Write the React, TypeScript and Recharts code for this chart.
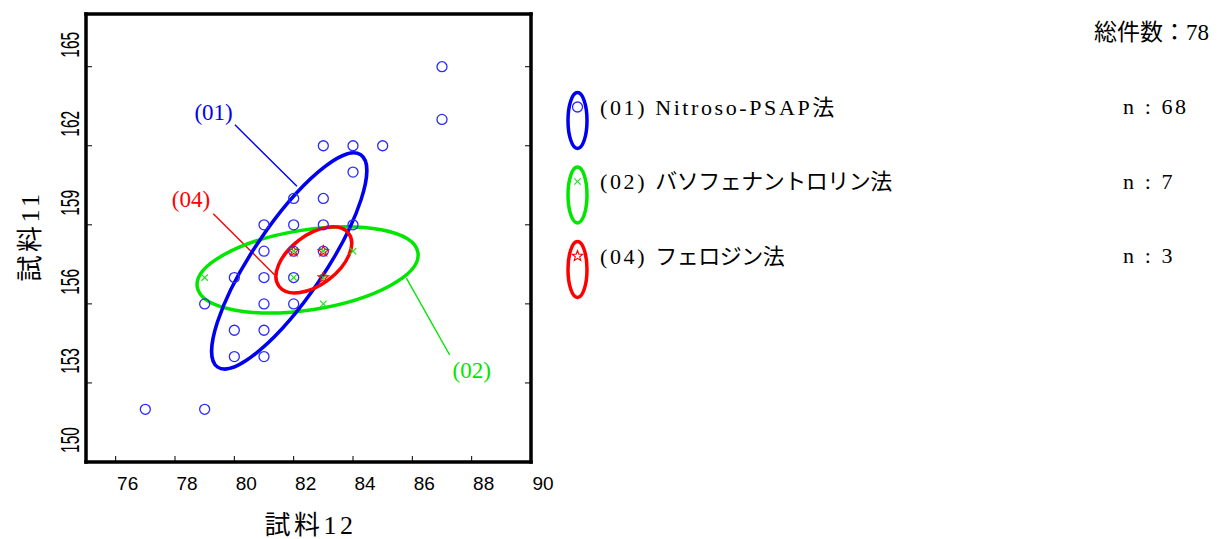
import React from "react";
import { ScatterChart, Scatter, XAxis, YAxis, ReferenceLine, ReferenceDot } from "recharts";

const CHART_W = 1221;
const CHART_H = 539;

const SERIF = "'Liberation Serif', 'Noto Sans CJK JP', serif";
const SANS = "'Liberation Sans', Arial, sans-serif";

const xTicks = [76, 78, 80, 82, 84, 86, 88, 90];
const yTicks = [150, 153, 156, 159, 162, 165];

const xTitle = "試料12";
const yTitle = "試料11";
const totalLabel = "総件数：78";

// (01) Nitroso-PSAP法
const nitrosoPoints = [
  { x: 87, y: 165 }, { x: 87, y: 163 },
  { x: 83, y: 162 }, { x: 84, y: 162 }, { x: 85, y: 162 },
  { x: 84, y: 161 },
  { x: 82, y: 160 }, { x: 83, y: 160 },
  { x: 81, y: 159 }, { x: 82, y: 159 }, { x: 83, y: 159 }, { x: 84, y: 159 },
  { x: 81, y: 158 }, { x: 82, y: 158 }, { x: 83, y: 158 },
  { x: 80, y: 157 }, { x: 81, y: 157 }, { x: 82, y: 157 },
  { x: 79, y: 156 }, { x: 81, y: 156 }, { x: 82, y: 156 },
  { x: 80, y: 155 }, { x: 81, y: 155 },
  { x: 80, y: 154 }, { x: 81, y: 154 },
  { x: 77, y: 152 }, { x: 79, y: 152 },
];

// (02) バソフェナントロリン法
const bathoPoints = [
  { x: 82, y: 158 }, { x: 83, y: 158 }, { x: 84, y: 158 },
  { x: 79, y: 157 }, { x: 82, y: 157 }, { x: 83, y: 157 },
  { x: 83, y: 156 },
];

// (04) フェロジン法
const ferrozinePoints = [
  { x: 82, y: 158 }, { x: 83, y: 158 }, { x: 83, y: 157 },
];

// ellipse = centre, end of one semi-axis, end of the conjugate semi-axis
const nitrosoEllipse = [
  { x: 81.85, y: 157.63 }, { x: 84.26, y: 161.66 }, { x: 82.86, y: 156.87 },
];
const bathoEllipse = [
  { x: 82.47, y: 157.29 }, { x: 86.19, y: 157.94 }, { x: 82.68, y: 155.79 },
];
const ferrozineEllipse = [
  { x: 82.68, y: 157.67 }, { x: 83.85, y: 158.68 }, { x: 83.19, y: 156.93 },
];

// leader lines from the group labels to the ellipses
const nitrosoLeader = [{ x: 80.02, y: 162.8 }, { x: 82.11, y: 160.46 }];
const bathoLeader = [{ x: 85.8, y: 156.98 }, { x: 87.26, y: 154.06 }];
const ferrozineLeader = [{ x: 79.29, y: 159.42 }, { x: 81.36, y: 157.1 }];

const nitrosoTag = { x: 79.3, y: 163.25, text: "(01)" };
const bathoTag = { x: 88.0, y: 153.49, text: "(02)" };
const ferrozineTag = { x: 78.54, y: 159.95, text: "(04)" };

const methodIds = ["(01)", "(02)", "(04)"];
const methodNames = ["Nitroso-PSAP法", "バソフェナントロリン法", "フェロジン法"];
const methodCounts = [68, 7, 3];

const BLUE = "#0000f0";
const GREEN = "#00e600";
const RED = "#ff0000";
const methodColors = [BLUE, GREEN, RED];

const ellipsePath = (pts: { x: number; y: number }[]) => {
  const [c, p, q] = pts;
  const ux = p.x - c.x;
  const uy = p.y - c.y;
  const vx = q.x - c.x;
  const vy = q.y - c.y;
  const k = 0.5523;
  const P = (a: number, b: number) =>
    `${(c.x + a * ux + b * vx).toFixed(2)},${(c.y + a * uy + b * vy).toFixed(2)}`;
  return (
    `M${P(1, 0)} C${P(1, k)} ${P(k, 1)} ${P(0, 1)} ` +
    `C${P(-k, 1)} ${P(-1, k)} ${P(-1, 0)} ` +
    `C${P(-1, -k)} ${P(-k, -1)} ${P(0, -1)} ` +
    `C${P(k, -1)} ${P(1, -k)} ${P(1, 0)} Z`
  );
};

const ellipseLine = (color: string) => (props: any) =>
  <path d={ellipsePath(props.points)} fill="none" stroke={color} strokeWidth={3.5} />;

const NoShape = () => <g />;

const starPath = (cx: number, cy: number, R: number, r: number) => {
  let d = "";
  for (let i = 0; i < 10; i++) {
    const rad = i % 2 === 0 ? R : r;
    const a = -Math.PI / 2 + (i * Math.PI) / 5;
    d += `${i === 0 ? "M" : "L"}${(cx + rad * Math.cos(a)).toFixed(2)},${(cy + rad * Math.sin(a)).toFixed(2)}`;
  }
  return d + "Z";
};

const CircleMark = ({ cx, cy }: any) => (
  <circle cx={cx} cy={cy} r={5} fill="none" stroke="#2a2aff" strokeWidth={1.3} />
);
const CrossMark = ({ cx, cy }: any) => (
  <g stroke="#22dd22" strokeWidth={1.2}>
    <line x1={cx - 3.2} y1={cy - 3.2} x2={cx + 3.2} y2={cy + 3.2} />
    <line x1={cx - 3.2} y1={cy + 3.2} x2={cx + 3.2} y2={cy - 3.2} />
  </g>
);
const StarMark = ({ cx, cy }: any) => (
  <path d={starPath(cx, cy, 5.5, 2.3)} fill="none" stroke={RED} strokeWidth={1.1} />
);

const BottomTick = ({ x, y, payload }: any) => (
  <g>
    <line x1={x} y1={y} x2={x} y2={y - 6} stroke="#000" strokeWidth={1} />
    <text x={x + 12} y={y + 21} textAnchor="middle" dominantBaseline="central" fontSize={19} fontFamily={SANS} fill="#000">
      {payload.value}
    </text>
  </g>
);
const TopTick = ({ x, y }: any) => <line x1={x} y1={y} x2={x} y2={y + 6} stroke="#000" strokeWidth={1} />;
const LeftTick = ({ x, y, payload }: any) => (
  <g>
    <line x1={x} y1={y} x2={x + 6} y2={y} stroke="#000" strokeWidth={1} />
    <g transform={`translate(${x - 16},${y - 22}) rotate(-90) scale(0.62,1)`}>
      <text x={0} y={0} textAnchor="middle" dominantBaseline="central" fontSize={25} fontFamily={SANS} fill="#000">
        {payload.value}
      </text>
    </g>
  </g>
);
const RightTick = ({ x, y }: any) => <line x1={x} y1={y} x2={x - 6} y2={y} stroke="#000" strokeWidth={1} />;

const tagShape = (text: string, color: string) => (props: any) =>
  (
    <text x={props.cx} y={props.cy} textAnchor="middle" dominantBaseline="central" fontSize={23} fontFamily={SERIF} fill={color}>
      {text}
    </text>
  );

const frameLine = { stroke: "#000", strokeWidth: 3.5, strokeLinecap: "square" as const };

const TITLE_STYLE = { letterSpacing: 3.5 };

const XTitle = ({ viewBox }: any) => {
  const cx = viewBox.x + viewBox.width / 2 + 2;
  const cy = viewBox.y + 63;
  return (
    <text x={cx} y={cy} textAnchor="middle" dominantBaseline="central" fontSize={26} fontFamily={SERIF} fill="#000" style={TITLE_STYLE}>
      {xTitle}
    </text>
  );
};

const YTitle = ({ viewBox }: any) => {
  const cx = viewBox.x + viewBox.width - 56;
  const cy = viewBox.y + viewBox.height / 2 - 2;
  return (
    <text x={cx} y={cy} transform={`rotate(-90 ${cx} ${cy})`} textAnchor="middle" dominantBaseline="central" fontSize={26} fontFamily={SERIF} fill="#000" style={TITLE_STYLE}>
      {yTitle}
    </text>
  );
};

const LATIN = { letterSpacing: 2.6 };
const KANA = { letterSpacing: -0.5 };

const LegendOverlay = () => (
  <svg width={CHART_W} height={CHART_H} style={{ position: "absolute", left: 0, top: 0, pointerEvents: "none" }}>
    <text x={1209} y={32} textAnchor="end" dominantBaseline="central" fontSize={23} fontFamily={SERIF} fill="#000">
      {totalLabel}
    </text>
    {methodIds.map((id, i) => {
      const top = 91 + i * 74.5;
      const color = methodColors[i];
      const name = methodNames[i];
      const latinPart = name.replace(/法$/, "");
      const isLatin = /^[A-Za-z]/.test(name);
      return (
        <g key={id}>
          <ellipse cx={577.5} cy={top + 29.5} rx={9.5} ry={28} fill="none" stroke={color} strokeWidth={3.5} />
          {i === 0 && <CircleMark cx={577.5} cy={top + 16} />}
          {i === 1 && <CrossMark cx={577.5} cy={top + 16} />}
          {i === 2 && <StarMark cx={577.5} cy={top + 16} />}
          <text x={600} y={top + 15.5} dominantBaseline="central" fontSize={22} fontFamily={SERIF} fill="#000">
            <tspan style={LATIN}>{`${id} `}</tspan>
            {isLatin ? (
              <>
                <tspan style={LATIN}>{latinPart}</tspan>
                <tspan>法</tspan>
              </>
            ) : (
              <tspan style={KANA}>{name}</tspan>
            )}
          </text>
          <text x={1123} y={top + 15.5} dominantBaseline="central" fontSize={22} fontFamily={SERIF} fill="#000" style={LATIN}>
            {`n : ${methodCounts[i]}`}
          </text>
        </g>
      );
    })}
  </svg>
);

export default function App() {
  return (
    <div style={{ position: "absolute", left: 0, top: 0, width: CHART_W, height: CHART_H, background: "#fff" }}>
      <ScatterChart width={CHART_W} height={CHART_H} margin={{ top: 13, left: 85, right: 689, bottom: 76 }}>
        <XAxis
          type="number"
          dataKey="x"
          domain={[75, 90]}
          ticks={xTicks}
          interval={0}
          height={1}
          tickSize={0}
          tickMargin={0}
          tickLine={false}
          tick={<BottomTick />}
          axisLine={frameLine}
          allowDataOverflow
          label={{ content: <XTitle /> }}
        />
        <XAxis
          xAxisId="top"
          orientation="top"
          type="number"
          domain={[75, 90]}
          ticks={xTicks}
          interval={0}
          height={1}
          tickSize={0}
          tickMargin={0}
          tickLine={false}
          tick={<TopTick />}
          axisLine={frameLine}
          allowDataOverflow
        />
        <YAxis
          type="number"
          dataKey="y"
          domain={[150, 167]}
          ticks={yTicks}
          interval={0}
          width={1}
          tickSize={0}
          tickMargin={0}
          tickLine={false}
          tick={<LeftTick />}
          axisLine={frameLine}
          allowDataOverflow
          label={{ content: <YTitle /> }}
        />
        <YAxis
          yAxisId="right"
          orientation="right"
          type="number"
          domain={[150, 167]}
          ticks={yTicks}
          interval={0}
          width={1}
          tickSize={0}
          tickMargin={0}
          tickLine={false}
          tick={<RightTick />}
          axisLine={frameLine}
          allowDataOverflow
        />

        <Scatter data={bathoEllipse} shape={NoShape} line={ellipseLine(GREEN)} isAnimationActive={false} legendType="none" />
        <Scatter data={nitrosoEllipse} shape={NoShape} line={ellipseLine(BLUE)} isAnimationActive={false} legendType="none" />
        <Scatter data={ferrozineEllipse} shape={NoShape} line={ellipseLine(RED)} isAnimationActive={false} legendType="none" />

        <ReferenceLine segment={nitrosoLeader} stroke={BLUE} strokeWidth={1.4} />
        <ReferenceLine segment={bathoLeader} stroke={GREEN} strokeWidth={1.4} />
        <ReferenceLine segment={ferrozineLeader} stroke={RED} strokeWidth={1.4} />
        <ReferenceDot x={nitrosoTag.x} y={nitrosoTag.y} r={0} shape={tagShape(nitrosoTag.text, BLUE)} />
        <ReferenceDot x={bathoTag.x} y={bathoTag.y} r={0} shape={tagShape(bathoTag.text, GREEN)} />
        <ReferenceDot x={ferrozineTag.x} y={ferrozineTag.y} r={0} shape={tagShape(ferrozineTag.text, RED)} />

        <Scatter name="(01) Nitroso-PSAP法" data={nitrosoPoints} shape={CircleMark} isAnimationActive={false} />
        <Scatter name="(02) バソフェナントロリン法" data={bathoPoints} shape={CrossMark} isAnimationActive={false} />
        <Scatter name="(04) フェロジン法" data={ferrozinePoints} shape={StarMark} isAnimationActive={false} />
      </ScatterChart>
      <LegendOverlay />
    </div>
  );
}
